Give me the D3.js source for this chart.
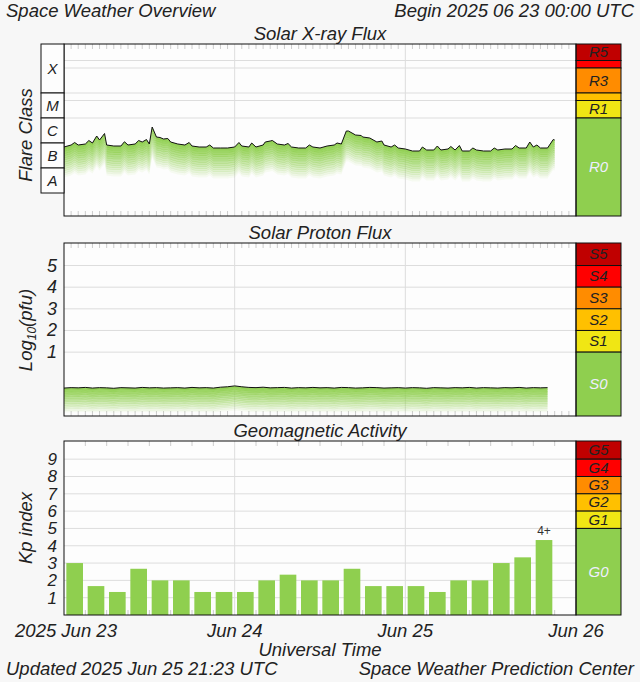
<!DOCTYPE html>
<html><head><meta charset="utf-8">
<script src="https://cdn.jsdelivr.net/npm/d3@7"></script>
<style>body{margin:0;background:#f7f7f7}svg{display:block;font-family:"Liberation Sans",Arial,sans-serif}</style>
</head><body><svg id="c" width="640" height="682"></svg>
<script>
// X-ray flux: hour since 2025-06-23 00:00 UTC, log10(W/m2)
const xrayHourly = [-6.16,-6.08,-6.08,-6.04,-6.0,-5.88,-6.08,-6.12,-6.12,-6.08,-6.04,-5.96,-6.04,-5.76,-5.84,-5.96,-6.04,-6.08,-6.12,-6.16,-6.16,-6.2,-6.2,-6.2,
  -6.16,-6.12,-6.16,-6.16,-6.08,-5.92,-6.04,-6.08,-6.16,-6.2,-6.2,-6.16,-6.2,-6.12,-6.08,-6.04,-5.52,-5.68,-5.76,-5.8,-5.96,-6.08,-6.16,-6.2,
  -6.24,-6.32,-6.32,-6.28,-6.28,-6.28,-6.24,-6.28,-6.32,-6.32,-6.28,-6.32,-6.32,-6.28,-6.24,-6.24,-6.2,-6.2,-6.16,-6.2,-6.2];
const xraySpikes = [[1.5,-5.98],[3.5,-5.9],[4.6,-5.72],[5.7,-5.62],[8.5,-5.95],[10.5,-5.9],[11.6,-5.86],[12.4,-5.36],[13.5,-5.78],[14.6,-5.82],[17.6,-5.98],[20.5,-6.08],
  [24.6,-5.98],[26.4,-6.0],[28.3,-5.96],[29.3,-5.9],[31.5,-6.02],[34.5,-6.08],[38.4,-6.0],[39.7,-5.52],[41.8,-5.7],[44.7,-5.92],[46.5,-6.08],[50.4,-6.16],[52.5,-6.12],
  [54.4,-6.14],[55.6,-6.1],[57.5,-6.2],[60.5,-6.2],[63.5,-6.1],[65.5,-5.96],[66.5,-6.08],[68.8,-5.86],[69.0,-5.88]];
// Proton flux log10(pfu)
const protonHourly = [-0.66,-0.64,-0.65,-0.63,-0.66,-0.64,-0.65,-0.67,-0.64,-0.65,-0.66,-0.63,-0.65,-0.64,-0.66,-0.65,-0.64,-0.66,-0.63,-0.65,-0.64,-0.66,-0.62,-0.6,
  -0.56,-0.6,-0.63,-0.64,-0.62,-0.65,-0.64,-0.63,-0.66,-0.64,-0.65,-0.63,-0.65,-0.64,-0.66,-0.63,-0.64,-0.66,-0.65,-0.63,-0.64,-0.66,-0.65,-0.64,
  -0.66,-0.64,-0.65,-0.67,-0.64,-0.65,-0.66,-0.64,-0.65,-0.63,-0.66,-0.64,-0.65,-0.66,-0.64,-0.65,-0.63,-0.66,-0.64,-0.65,-0.64];
// Kp 3-hourly
const kp = [3,1.67,1.33,2.67,2,2,1.33,1.33,1.33,2,2.33,2,2,2.67,1.67,1.67,1.67,1.33,2,2,3,3.33,4.33];
const kpLast = "4+";
const dayLabels = ["2025 Jun 23","Jun 24","Jun 25","Jun 26"];
const flareClasses = ["X","M","C","B","A"];
const rScale = [["R5",-2.7,-2.04,"#c00000"],["",-3,-2.7,"#ff0000"],["R3",-4,-3,"#ff8c00"],["",-4.3,-4,"#ffc000"],["R1",-5,-4.3,"#f0e614"],["R0",-8.92,-5,"#8fcf4f"]];
const sScale = [["S5",5,6.04,"#c00000"],["S4",4,5,"#ff0000"],["S3",3,4,"#ff8c00"],["S2",2,3,"#ffc000"],["S1",1,2,"#f0e614"],["S0",-1.95,1,"#8fcf4f"]];
const gScale = [["G5",9,10.05,"#c00000"],["G4",8,9,"#ff0000"],["G3",7,8,"#ff8c00"],["G2",6,7,"#ffc000"],["G1",5,6,"#f0e614"],["G0",0,5,"#8fcf4f"]];

const svg = d3.select("#c");
const X0=64, X1=576;
const x = d3.scaleLinear().domain([0,72]).range([X0,X1]);
const green="#8fcf4f";
const txt=(s,xx,yy,size,anchor)=>svg.append("text").attr("x",xx).attr("y",yy).attr("font-size",size).attr("font-style","italic").attr("fill","#222").attr("text-anchor",anchor||"start").text(s);

function panel(top,bot,y,title,scaleBands,gridVals){
  svg.append("rect").attr("x",X0).attr("y",top).attr("width",X1-X0).attr("height",bot-top).attr("fill","#fdfdfd");
  const g=svg.append("g");
  [24,48].forEach(h=>g.append("line").attr("x1",x(h)).attr("x2",x(h)).attr("y1",top).attr("y2",bot).attr("stroke","#ddd"));
  gridVals.forEach(v=>g.append("line").attr("x1",X0).attr("x2",X1).attr("y1",y(v)).attr("y2",y(v)).attr("stroke","#ddd"));
  txt(title,320,top-4,18.5,"middle");
  scaleBands.forEach(b=>{
    svg.append("rect").attr("x",X1).attr("y",y(b[2])).attr("width",45).attr("height",y(b[1])-y(b[2])).attr("fill",b[3]).attr("stroke","#111").attr("stroke-width",1);
    if(b[0]) svg.append("text").attr("x",X1+22.5).attr("y",(y(b[1])+y(b[2]))/2+5).attr("text-anchor","middle").attr("font-size",15).attr("font-style","italic")
      .attr("fill",b[0].endsWith("0")?"#eef":"#222").text(b[0]);
  });
}
function ticks(top,bot,step){
  for(let h=step;h<72;h+=step){ if(h%24===0) continue;
    svg.append("line").attr("x1",x(h)).attr("x2",x(h)).attr("y1",top).attr("y2",top+5).attr("stroke","#ccc");
    svg.append("line").attr("x1",x(h)).attr("x2",x(h)).attr("y1",bot-5).attr("y2",bot).attr("stroke","#ccc");}
}
function fadeArea(data,y,depth){
  const n=14, d=depth/n;
  for(let k=0;k<n;k++){
    const a=d3.area().x(p=>x(p[0])).y0(p=>y(p[1])+k*d).y1(p=>y(p[1])+(k+1)*d+0.5);
    svg.append("path").datum(data).attr("d",a).attr("fill",green).attr("opacity",0.95*(1-k/n));
  }
  svg.append("path").datum(data).attr("d",d3.line().x(p=>x(p[0])).y(p=>y(p[1]))).attr("fill","none").attr("stroke","#111").attr("stroke-width",1);
}

// Panel 1
const y1 = d3.scaleLinear().domain([-8.92,-2.04]).range([216,44]);
panel(44,216,y1,"Solar X-ray Flux",rScale,[-2.7,-3,-4,-4.3,-5]);
ticks(44,216,1);
const xr = xrayHourly.map((v,i)=>[i,v]).concat(xraySpikes).sort((a,b)=>a[0]-b[0]);
fadeArea(xr,y1,30);
svg.append("rect").attr("x",X0).attr("y",44).attr("width",X1-X0).attr("height",172).attr("fill","none").attr("stroke","#111");
const fb=[-2.04,-4,-5,-6,-7,-8];
flareClasses.forEach((c,i)=>{
  svg.append("rect").attr("x",41).attr("y",y1(fb[i])).attr("width",23).attr("height",y1(fb[i+1])-y1(fb[i])).attr("fill","#fdfdfd").attr("stroke","#111");
  svg.append("text").attr("x",52.5).attr("y",(y1(fb[i])+y1(fb[i+1]))/2+5).attr("text-anchor","middle").attr("font-size",15).attr("font-style","italic").attr("fill","#222").text(c);
});
svg.append("text").attr("transform","translate(32,135) rotate(-90)").attr("text-anchor","middle").attr("font-size",18.5).attr("font-style","italic").attr("fill","#222").text("Flare Class");

// Panel 2
const y2 = d3.scaleLinear().domain([-1.95,6.04]).range([416,243]);
panel(243,416,y2,"Solar Proton Flux",sScale,[1,2,3,4,5]);
ticks(243,416,1);
fadeArea(protonHourly.map((v,i)=>[i,v]),y2,24);
svg.append("rect").attr("x",X0).attr("y",243).attr("width",X1-X0).attr("height",173).attr("fill","none").attr("stroke","#111");
[1,2,3,4,5].forEach(v=>txt(String(v),57,y2(v)+6,18,"end"));
const pl=svg.append("text").attr("transform","translate(32,330) rotate(-90)").attr("text-anchor","middle").attr("font-size",18.5).attr("font-style","italic").attr("fill","#222");
pl.append("tspan").text("Log");pl.append("tspan").attr("font-size",12).attr("dy",4).text("10");pl.append("tspan").attr("dy",-4).text("(pfu)");

// Panel 3
const y3 = d3.scaleLinear().domain([0,10.05]).range([615,441]);
panel(441,615,y3,"Geomagnetic Activity",gScale,[1,2,3,4,5,6,7,8,9]);
ticks(441,615,3);
const xb = d3.scaleBand().domain(kp.map((d,i)=>i)).range([x(0),x(69)]).paddingInner(0.22).paddingOuter(0.11);
svg.selectAll(".kp").data(kp).join("rect").attr("x",(d,i)=>xb(i)).attr("width",xb.bandwidth()).attr("y",d=>y3(d)).attr("height",d=>615-y3(d)).attr("fill",green);
svg.append("text").attr("x",xb(kp.length-1)+xb.bandwidth()/2).attr("y",y3(kp[kp.length-1])-5).attr("text-anchor","middle").attr("font-size",12).attr("fill","#333").text(kpLast);
svg.append("rect").attr("x",X0).attr("y",441).attr("width",X1-X0).attr("height",174).attr("fill","none").attr("stroke","#111");
d3.range(1,10).forEach(v=>txt(String(v),57,y3(v)+6,17,"end"));
svg.append("text").attr("transform","translate(32,528) rotate(-90)").attr("text-anchor","middle").attr("font-size",18.5).attr("font-style","italic").attr("fill","#222").text("Kp index");

// x labels
dayLabels.forEach((s,i)=>txt(s,i===0?66:x(i*24),637,18.5,"middle"));
txt("Universal Time",320,656,18.5,"middle");
txt("Space Weather Overview",6,17,18.5);
txt("Begin 2025 06 23 00:00 UTC",634,17,18.5,"end");
txt("Updated 2025 Jun 25 21:23 UTC",6,675,18.5);
txt("Space Weather Prediction Center",634,675,18.5,"end");
</script></body></html>
